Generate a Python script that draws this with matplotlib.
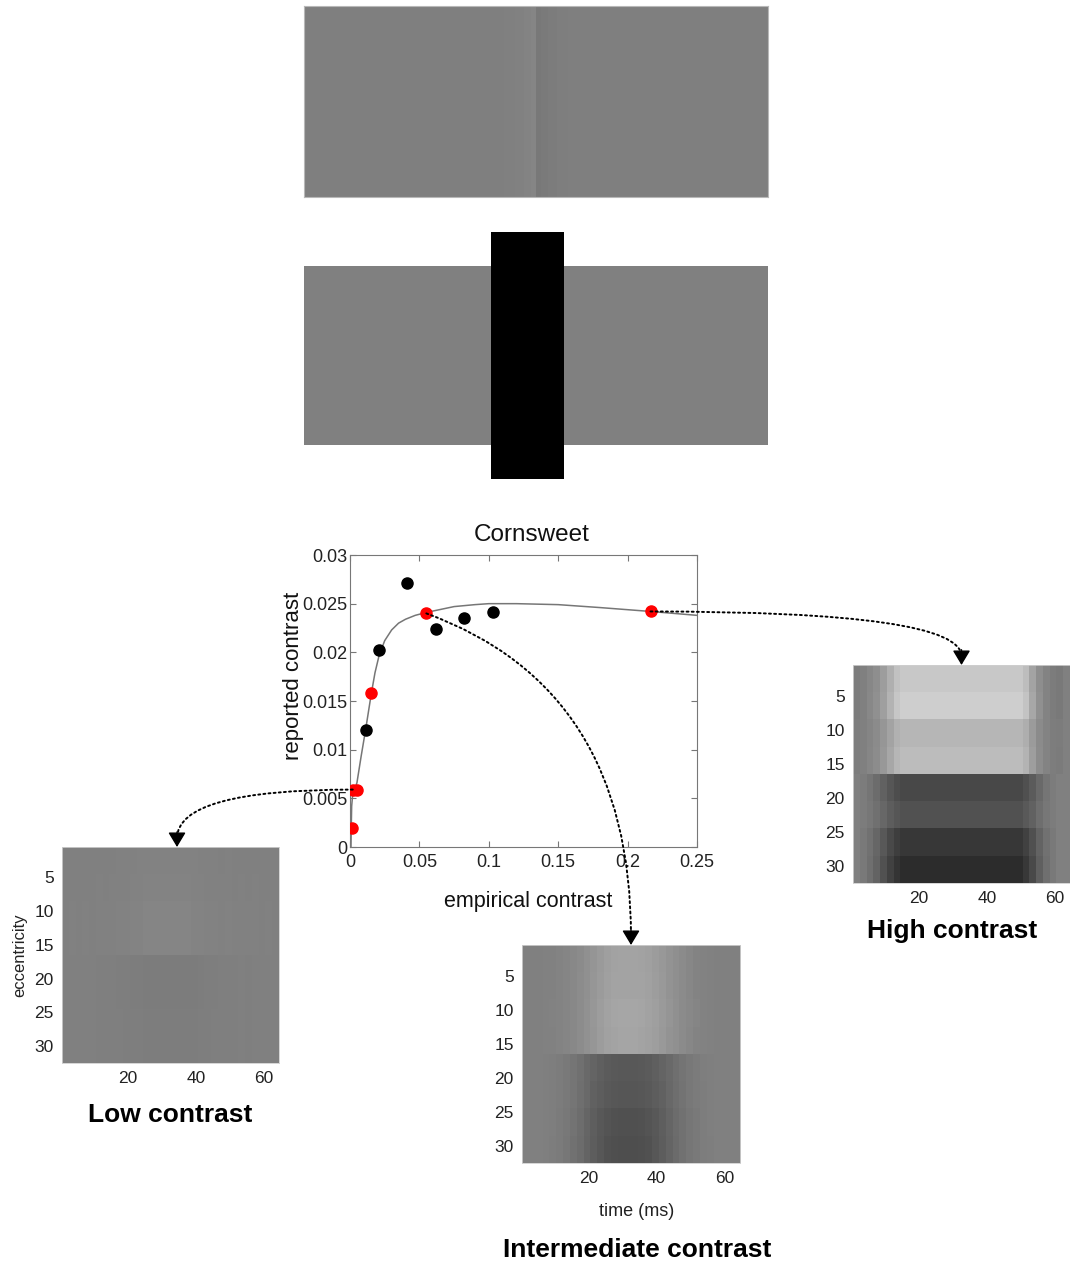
import matplotlib
matplotlib.use("Agg")
import matplotlib.pyplot as plt
import numpy as np
from matplotlib.patches import Rectangle, ConnectionPatch, ArrowStyle

plt.rcParams['font.family'] = ['Liberation Sans', 'DejaVu Sans']

# ---- data ----
# cornsweet stimulus luminance profile (edges as fraction of width, gray level 0-255)
cs_edges = [0.0, 0.43, 0.455, 0.475, 0.49, 0.5, 0.51, 0.525, 0.545, 0.57, 1.0]
cs_lum = [127, 128, 129, 131, 133, 120, 122, 124, 126, 127]

# main scatter: empirical vs reported contrast
black_x = [0.0113, 0.0212, 0.0412, 0.0620, 0.0824, 0.1027]
black_y = [0.0120, 0.0202, 0.0271, 0.0224, 0.0235, 0.0241]
red_x = [0.0017, 0.0020, 0.0050, 0.0154, 0.0550, 0.2165]
red_y = [0.0020, 0.0059, 0.0059, 0.0158, 0.0240, 0.0242]

# fitted curve
fit_x = [0.0007, 0.0009, 0.0012, 0.0020, 0.0035, 0.0050, 0.0080, 0.0113, 0.0154,
         0.0180, 0.0210, 0.0250, 0.0300, 0.0350, 0.0400, 0.0470, 0.0550, 0.0650,
         0.0750, 0.0900, 0.1000, 0.1200, 0.1500, 0.1800, 0.2165, 0.2500]
fit_y = [0.0000, 0.0020, 0.0042, 0.0055, 0.0060, 0.0066, 0.0093, 0.0121, 0.0158,
         0.0179, 0.0197, 0.0212, 0.0223, 0.0230, 0.0234, 0.0238, 0.0241, 0.0244,
         0.0247, 0.0249, 0.0250, 0.0250, 0.0249, 0.0246, 0.0242, 0.0238]

# heatmaps: background gray, amplitude per 4-row band, time profile per column pair
bg_gray = 128
low_bands = [2, 3, 5, 5, -4, -4, -3, -3]
low_top = [0, 0.1, 0, 0.1, 0, 0.2, 0.1, 0.2, 0.3, 0.4, 0.6, 0.8, 1, 1, 1, 1,
           1, 1, 0.9, 0.8, 0.6, 0.4, 0.3, 0.2, 0.3, 0.1, 0.2, 0.1, 0.2, 0, 0.1, 0]
low_bottom = [0, 0.1, 0, 0.1, 0.1, 0.2, 0.2, 0.3, 0.4, 0.5, 0.7, 0.8, 0.9, 1, 1, 1,
              1, 1, 1, 0.9, 0.7, 0.5, 0.4, 0.3, 0.2, 0.2, 0.1, 0.2, 0.1, 0, 0.1, 0]

mid_bands = [35, 36, 38, 37, -40, -42, -48, -50]
mid_top = [0, 0, 0, 0.02, 0.04, 0.08, 0.14, 0.22, 0.32, 0.45, 0.6, 0.75, 0.88, 0.96,
           1.0, 1.0, 1.0, 0.97, 0.9, 0.8, 0.68, 0.55, 0.42, 0.3, 0.2, 0.12, 0.06,
           0.03, 0, 0, 0, 0]
mid_bottom = [0, 0, 0, 0.02, 0.05, 0.1, 0.17, 0.27, 0.4, 0.55, 0.7, 0.82, 0.92, 0.98,
              1.0, 1.0, 1.0, 0.98, 0.92, 0.82, 0.7, 0.56, 0.42, 0.3, 0.2, 0.12, 0.06,
              0.03, 0, 0, 0, 0]

high_bands = [72, 78, 54, 60, -56, -46, -73, -83]
high_top = [-0.05, 0.0, 0.1, 0.2, 0.4, 0.65, 0.9] + [1.0] * 18 + \
           [0.85, 0.5, 0.2, 0.05, -0.05, -0.08, 0.0]
high_bottom = [0.0, 0.08, 0.2, 0.35, 0.55, 0.75, 0.9] + [1.0] * 18 + \
              [0.85, 0.65, 0.4, 0.2, 0.08, 0.0, 0.0]

x_ticks = [20, 40, 60]
y_ticks = [5, 10, 15, 20, 25, 30]

W, H = 1070, 1263
fig = plt.figure(figsize=(W / 100, H / 100), dpi=100)


def px_axes(x0, y0, x1, y1):
    #axes placed by pixel corners (top-left origin)
    return fig.add_axes([x0 / W, 1 - y1 / H, (x1 - x0) / W, (y1 - y0) / H])


def build_map(bands, top, bottom):
    amp = np.repeat(np.array(bands, float), 4)[:, None]
    prof = np.vstack([np.tile(np.repeat(top, 2), (16, 1)),
                      np.tile(np.repeat(bottom, 2), (16, 1))])
    return bg_gray + amp * prof


#top stimulus
ax_top = px_axes(304, 6, 768, 197)
ax_top.pcolormesh(cs_edges, [0, 1], np.array([cs_lum]), cmap='gray', vmin=0, vmax=255)
ax_top.set_xlim(0, 1)
ax_top.set_ylim(0, 1)
ax_top.set_xticks([])
ax_top.set_yticks([])
for s in ax_top.spines.values():
    s.set_color('#b8b8b8')
    s.set_linewidth(0.8)

#occluded stimulus
ax_occ = px_axes(304, 232, 768, 479)
ax_occ.set_xlim(0, 464)
ax_occ.set_ylim(247, 0)
ax_occ.add_patch(Rectangle((0, 34), 464, 179, color='#808080', lw=0))
ax_occ.add_patch(Rectangle((187, 0), 73, 247, color='black', lw=0))
ax_occ.axis('off')

#main scatter plot
ax = px_axes(350, 555, 697, 847)
ax.plot(fit_x, fit_y, color='#767676', lw=1.1, zorder=2)
ax.plot(black_x, black_y, 'o', color='black', ms=8, zorder=3)
ax.plot(red_x, red_y, 'o', color='red', ms=8, zorder=3)
ax.set_xlim(0, 0.25)
ax.set_ylim(0, 0.03)
ax.set_xticks([0, 0.05, 0.1, 0.15, 0.2, 0.25])
ax.set_xticklabels(['0', '0.05', '0.1', '0.15', '0.2', '0.25'])
ax.set_yticks([0, 0.005, 0.01, 0.015, 0.02, 0.025, 0.03])
ax.set_yticklabels(['0', '0.005', '0.01', '0.015', '0.02', '0.025', '0.03'])
ax.tick_params(direction='in', top=True, right=True, length=4, color='#777777',
               labelsize=13, labelcolor='#222222')
ax.tick_params(axis='x', pad=5)
ax.tick_params(axis='y', pad=2)
for s in ax.spines.values():
    s.set_color('#777777')
fig.text(532 / W, 1 - 535 / H, 'Cornsweet', fontsize=17.5, ha='center', va='center',
         color='#111111')
fig.text(293 / W, 1 - 676 / H, 'reported contrast', rotation=90, fontsize=16,
         ha='center', va='center', color='#111111')
fig.text(528 / W, 1 - 902 / H, 'empirical contrast', fontsize=15.5,
         ha='center', va='center', color='#111111')

#heatmaps
maps = [
    ('low', (62, 847, 279, 1063), low_bands, low_top, low_bottom),
    ('mid', (522, 945, 740, 1163), mid_bands, mid_top, mid_bottom),
    ('high', (853, 665, 1070, 883), high_bands, high_top, high_bottom),
]
hax = {}
for name, box, bands, top, bottom in maps:
    h = px_axes(*box)
    h.imshow(build_map(bands, top, bottom), cmap='gray', vmin=0, vmax=255,
             extent=(0.5, 64.5, 32.5, 0.5), aspect='auto', interpolation='nearest')
    h.set_xticks(x_ticks)
    h.set_yticks(y_ticks)
    h.tick_params(length=0, labelsize=12.5, labelcolor='#222222', pad=6)
    for s in h.spines.values():
        s.set_color('#cfcfcf')
        s.set_linewidth(0.6)
    hax[name] = h

fig.text(20 / W, 1 - 955 / H, 'eccentricity', rotation=90, fontsize=12,
         ha='center', va='center', color='#222222')
fig.text(637 / W, 1 - 1211 / H, 'time (ms)', fontsize=13, ha='center', va='center',
         color='#222222')
fig.text(170 / W, 1 - 1115 / H, 'Low contrast', fontsize=19, fontweight='bold',
         ha='center', va='center')
fig.text(637 / W, 1 - 1250 / H, 'Intermediate contrast', fontsize=19,
         fontweight='bold', ha='center', va='center')
fig.text(952 / W, 1 - 931 / H, 'High contrast', fontsize=19, fontweight='bold',
         ha='center', va='center')

#dotted arrows from the red points to the maps, with solid heads at the tips
head = ArrowStyle('-|>', head_length=0.5, head_width=0.3)
links = [
    ((red_x[5], red_y[5]), 'high', 0.5, 'angle3,angleA=0,angleB=90'),
    ((red_x[4], red_y[4]), 'mid', 0.5, 'angle3,angleA=-20,angleB=90'),
    ((red_x[1], red_y[1]), 'low', 0.53, 'angle3,angleA=0,angleB=90'),
]
for xy, name, tip_x, style in links:
    line = ConnectionPatch(xyA=xy, coordsA=ax.transData, xyB=(tip_x, 1.04),
                           coordsB=hax[name].transAxes, arrowstyle='-',
                           connectionstyle=style, linestyle=':', lw=1.4,
                           color='black', zorder=5)
    fig.add_artist(line)
    tip = ConnectionPatch(xyA=(tip_x, 1.07), coordsA=hax[name].transAxes,
                          xyB=(tip_x, 1.0), coordsB=hax[name].transAxes,
                          arrowstyle=head, lw=1.0, color='black',
                          mutation_scale=18, zorder=6)
    fig.add_artist(tip)

fig.savefig('out.png', dpi=100)
